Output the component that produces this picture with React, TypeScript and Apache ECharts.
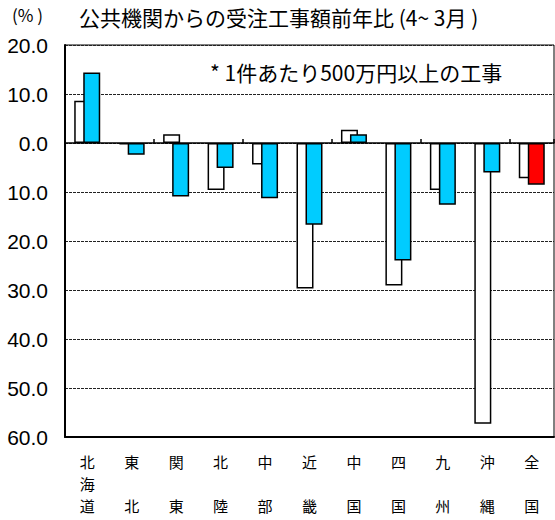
import React, { useEffect, useRef } from "react";
import * as echarts from "echarts";

const categories = ["北海道", "東北", "関東", "北陸", "中部", "近畿", "中国", "四国", "九州", "沖縄", "全国"];
const previousYear = [8.6, -0.3, 1.8, -9.6, -4.4, -29.7, 2.7, -29.1, -9.6, -57.3, -7.2];
const currentYear = [14.4, -2.4, -10.9, -5.1, -11.3, -16.7, 1.8, -24.0, -12.6, -6.0, -8.5];
const yTicks = { min: -60, max: 20, interval: 10 };
const titleText = "公共機関からの受注工事額前年比 (4~ 3月 )";
const unitText = "(% )";
const noteText = "* 1件あたり500万円以上の工事";

const CJK = "'Noto Sans CJK JP', sans-serif";

// Vertical label rows: first char, middle char (only for 3-char names), last char
const rowFirst = (s: string) => s.charAt(0);
const rowMiddle = (s: string) => (s.length > 2 ? s.charAt(1) : "");
const rowLast = (s: string) => s.charAt(s.length - 1);

export default function App() {
  const ref = useRef<HTMLDivElement>(null);
  useEffect(() => {
    if (!ref.current) return;
    const chart = echarts.init(ref.current, null, { renderer: "svg" });
    const last = currentYear.length - 1;
    const labelAxis = (margin: number, fmt: (s: string) => string, showLine: boolean) => ({
      type: "category",
      data: categories,
      position: "bottom",
      axisLine: { show: showLine, onZero: false, lineStyle: { color: "#000", width: 2 } },
      axisTick: { show: false },
      axisLabel: { show: true, margin, color: "#000", fontFamily: CJK, fontSize: 15, lineHeight: 15, interval: 0, formatter: fmt },
    });
    chart.setOption({
      animation: false,
      backgroundColor: "#fff",
      grid: { left: 65, right: 1, top: 45, bottom: 83, show: true, borderColor: "#000", borderWidth: 1, backgroundColor: "transparent" },
      graphic: [
        { type: "text", left: 12, top: 6, style: { text: unitText, font: `17px ${CJK}`, fill: "#000" } },
        { type: "text", left: 79, top: 6, style: { text: titleText, font: `21px ${CJK}`, fill: "#000" } },
        { type: "text", left: 210, top: 61, style: { text: noteText, font: `21px ${CJK}`, fill: "#000" } },
      ],
      xAxis: [
        {
          type: "category",
          data: categories,
          axisLine: { onZero: true, lineStyle: { color: "#000", width: 1.5 } },
          axisTick: { show: true, inside: true, length: 4, lineStyle: { color: "#000", width: 1.5 } },
          axisLabel: { show: false },
          z: 10,
        },
        labelAxis(17, rowFirst, true),
        labelAxis(39, rowMiddle, false),
        labelAxis(61, rowLast, false),
      ],
      yAxis: {
        type: "value",
        min: yTicks.min,
        max: yTicks.max,
        interval: yTicks.interval,
        axisLine: { show: true, lineStyle: { color: "#000", width: 2 } },
        axisTick: { show: false },
        axisLabel: {
          color: "#000",
          fontFamily: "'Liberation Sans', Arial, sans-serif",
          fontSize: 21,
          margin: 17,
          formatter: (v: number) => Math.abs(v).toFixed(1),
        },
        splitLine: { show: true, lineStyle: { color: "#222", width: 1, type: [3, 1] } },
      },
      series: [
        {
          type: "bar",
          xAxisIndex: 0,
          data: previousYear,
          barWidth: 17,
          barGap: "-47%",
          itemStyle: { color: "#fff", borderColor: "#000", borderWidth: 1.5 },
        },
        {
          type: "bar",
          xAxisIndex: 0,
          data: currentYear.map((v, i) => (i === last ? { value: v, itemStyle: { color: "#ff0000" } } : v)),
          barWidth: 17,
          barGap: "-47%",
          itemStyle: { color: "#00ccff", borderColor: "#000", borderWidth: 1.5 },
        },
      ],
    });
    return () => chart.dispose();
  }, []);
  return <div ref={ref} style={{ position: "fixed", left: 0, top: 0, width: 555, height: 520 }} />;
}
